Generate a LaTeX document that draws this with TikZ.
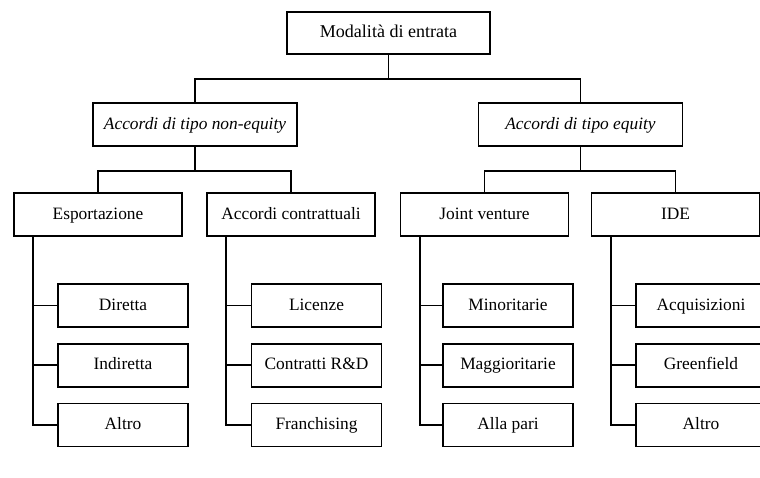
\documentclass[tikz,border=0pt]{standalone}
\usepackage{fontspec}
\setmainfont{Liberation Serif}

\begin{document}
\begin{tikzpicture}[
    x=0.026316cm,
    y=-0.026316cm,
    node distance=1.572cm,
    box/.style={
        rectangle,
        draw,
        line width=1.3pt,
        minimum height=1.13cm,
        inner sep=2pt,
        text height=2ex,
        text depth=0.5ex,
        font=\fontsize{13}{15}\selectfont
    },
    root/.style={box, minimum width=5.34cm, minimum height=1.105cm, font=\fontsize{13.5}{15}\selectfont},
    group/.style={box, minimum width=5.37cm, font=\fontsize{13}{15}\selectfont\itshape},
    mode/.style={box, minimum width=4.42cm},
    leaf/.style={box, minimum width=3.42cm},
    link/.style={line width=1.3pt}
]
\useasboundingbox (0,0) rectangle (760,477);

% Nodes
\node [root] (root) at (388.5,33) {Modalità di entrata};

\node [group] (noneq) at (195,124.5) {Accordi di tipo non-equity};
\node [group] (eq) at (580.5,124.5) {Accordi di tipo equity};

\node [mode] (exp) at (98,214.5) {Esportazione};
\node [mode] (contr) at (291,214.5) {Accordi contrattuali};
\node [mode] (jv) at (484.5,214.5) {Joint venture};
\node [mode] (ide) at (675.5,214.5) {IDE};

% Leaves
\node [leaf] (exp1) at (123,305.5) {Diretta};
\node [leaf, below of=exp1] (exp2) {Indiretta};
\node [leaf, below of=exp2] (exp3) {Altro};

\node [leaf] (contr1) at (316.5,305.5) {Licenze};
\node [leaf, below of=contr1] (contr2) {Contratti R\&D};
\node [leaf, below of=contr2] (contr3) {Franchising};

\node [leaf] (jv1) at (508,305.5) {Minoritarie};
\node [leaf, below of=jv1] (jv2) {Maggioritarie};
\node [leaf, below of=jv2] (jv3) {Alla pari};

\node [leaf] (ide1) at (701,305.5) {Acquisizioni};
\node [leaf, below of=ide1] (ide2) {Greenfield};
\node [leaf, below of=ide2] (ide3) {Altro};

% Connectors
\coordinate (f0) at (388.5,79);
\coordinate (f1) at (195,171);
\coordinate (f2) at (580.5,171);

\draw [link] (root) -- (f0);
\draw [link] (noneq) |- (f0) -| (eq);

\draw [link] (noneq) -- (f1);
\draw [link] (exp) |- (f1) -| (contr);
\draw [link] (eq) -- (f2);
\draw [link] (jv) |- (f2) -| (ide);

\foreach \m in {exp, contr, jv, ide} {
    \coordinate (\m-t) at ([xshift=0.53cm]\m.south west);
    \draw [link] (\m-t) |- (\m3);
    \foreach \i in {1,2}
        \draw [link] (\m-t |- \m\i) -- (\m\i);
}

\end{tikzpicture}
\end{document}
